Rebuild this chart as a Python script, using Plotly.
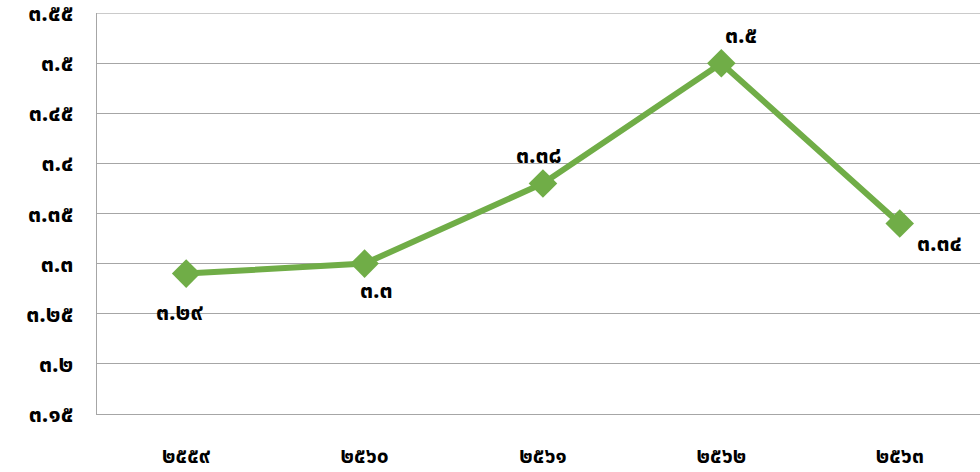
import plotly.graph_objects as go

thai = str.maketrans("0123456789", "๐๑๒๓๔๕๖๗๘๙")

years = ["2559", "2560", "2561", "2562", "2563"]
values = [3.29, 3.30, 3.38, 3.50, 3.34]
value_labels = ["3.29", "3.3", "3.38", "3.5", "3.34"]
y_ticks = [3.15, 3.2, 3.25, 3.3, 3.35, 3.4, 3.45, 3.5, 3.55]
y_tick_labels = ["3.15", "3.2", "3.25", "3.3", "3.35", "3.4", "3.45", "3.5", "3.55"]

x_text = [y.translate(thai) for y in years]
FONT = "Tahoma, 'Noto Sans Thai', 'DejaVu Sans', sans-serif"
FS = 23

fig = go.Figure()
fig.add_trace(go.Scatter(
    x=list(range(len(years))), y=values, mode="lines+markers",
    line=dict(color="#70AD47", width=6),
    marker=dict(symbol="diamond", size=22, color="#70AD47"),
    hoverinfo="skip", showlegend=False,
))

offsets = [(-7, -39), (12, -27), (-4, 27), (20, 27), (40, -20)]
for i, (v, lab) in enumerate(zip(values, value_labels)):
    dx, dy = offsets[i]
    fig.add_annotation(x=i, y=v, text=lab.translate(thai), showarrow=False,
                       xshift=dx, yshift=dy,
                       font=dict(family=FONT, size=FS, color="#000000", weight="bold"))

# top gridline (plotly skips the grid line on the plot edge)
fig.add_shape(type="line", xref="paper", x0=0, x1=1, yref="y",
              y0=y_ticks[-1], y1=y_ticks[-1], line=dict(color="#A6A6A6", width=1),
              layer="below")

fig.update_layout(
    width=980, height=472,
    margin=dict(l=97, r=0, t=13, b=58),
    paper_bgcolor="white", plot_bgcolor="white",
    font=dict(family=FONT, size=FS, color="#000000"),
    xaxis=dict(range=[-0.5, 4.45], tickvals=list(range(len(years))), ticktext=x_text,
               showgrid=False, showline=True, linecolor="#A6A6A6", linewidth=1,
               ticks="", ticklabelstandoff=23, zeroline=False, automargin=False,
               ticklabeloverflow="allow",
               tickfont=dict(family=FONT, size=21, color="#000000", weight="bold")),
    yaxis=dict(range=[3.1499, 3.5501], tickvals=y_ticks,
               ticktext=[t.translate(thai) for t in y_tick_labels],
               showgrid=True, gridcolor="#A6A6A6", gridwidth=1,
               showline=True, linecolor="#A6A6A6", linewidth=1,
               ticks="", ticklabelstandoff=18, zeroline=False, automargin=False,
               ticklabeloverflow="allow",
               tickfont=dict(family=FONT, size=FS, color="#000000", weight="bold")),
)

fig.write_html("out.html", config={"displayModeBar": False},
               post_script="document.body.style.margin='0';")
